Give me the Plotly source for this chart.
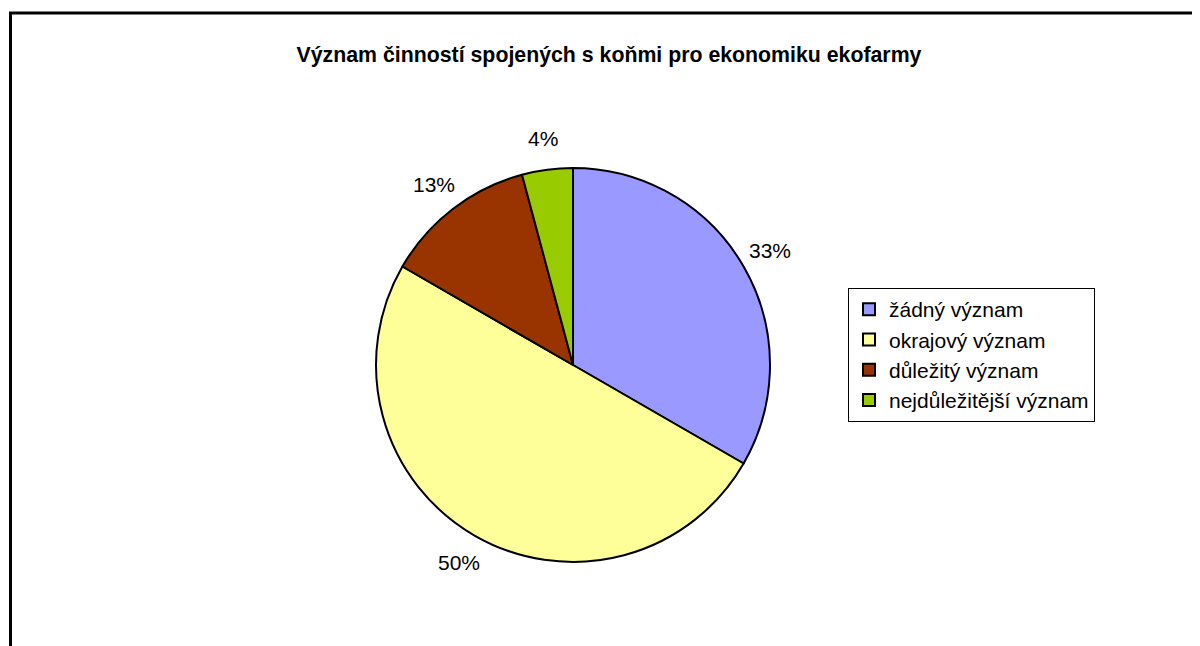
import math
import plotly.graph_objects as go

categories = ["žádný význam", "okrajový význam", "důležitý význam", "nejdůležitější význam"]
values = [8, 12, 3, 1]
colors = ["#9999FF", "#FFFF99", "#993300", "#99CC00"]
title_text = "Význam činností spojených s koňmi pro ekonomiku ekofarmy"

total = sum(values)
labels_text = [f"{int(v / total * 100 + 0.5)}%" for v in values]

W, H = 1200, 646
OFF = 8  # page body margin
cx, cy, r = 573 - OFF, 365 - OFF, 197
label_dist = r + 31

fig = go.Figure(go.Pie(
    labels=categories,
    values=values,
    textinfo="none",
    sort=False,
    direction="clockwise",
    rotation=0,
    marker=dict(colors=colors, line=dict(color="black", width=2)),
    domain=dict(x=[(cx - r) / W, (cx + r) / W], y=[(H - cy - r) / H, (H - cy + r) / H]),
    hoverinfo="label+percent",
))

# percentage labels placed outside each slice at its mid angle
annotations = []
cum = 0
for v, t in zip(values, labels_text):
    mid = (cum + v / 2) / total * 2 * math.pi
    cum += v
    px = cx + label_dist * math.sin(mid)
    py = cy - label_dist * math.cos(mid)
    annotations.append(dict(text=t, x=px / W, y=1 - py / H, xref="paper", yref="paper",
                            xanchor="center", yanchor="middle", showarrow=False,
                            font=dict(family="Liberation Sans, Arial", size=21, color="black")))

fig.update_layout(
    width=W, height=H,
    margin=dict(l=0, r=0, t=0, b=0),
    paper_bgcolor="white",
    plot_bgcolor="white",
    title=dict(text="<b>" + title_text + "</b>", x=(609 - OFF) / W, xanchor="center",
               y=1 - (55 - OFF) / H, yanchor="middle",
               font=dict(family="Liberation Sans, Arial", size=21.3, color="black")),
    legend=dict(x=(848 - OFF) / W, y=1 - (288 - OFF) / H, xanchor="left", yanchor="top",
                bordercolor="black", borderwidth=1, bgcolor="white",
                font=dict(family="Liberation Sans, Arial", size=21, color="black"),
                itemwidth=30, tracegroupgap=0),
    showlegend=True,
    annotations=annotations,
    shapes=[dict(type="rect", xref="paper", yref="paper",
                 x0=(10.5 - OFF) / W, x1=1.02, y0=-0.02, y1=1 - (13 - OFF) / H,
                 line=dict(color="black", width=3), fillcolor="rgba(0,0,0,0)", layer="below")],
)

fig.write_html("out.html")
